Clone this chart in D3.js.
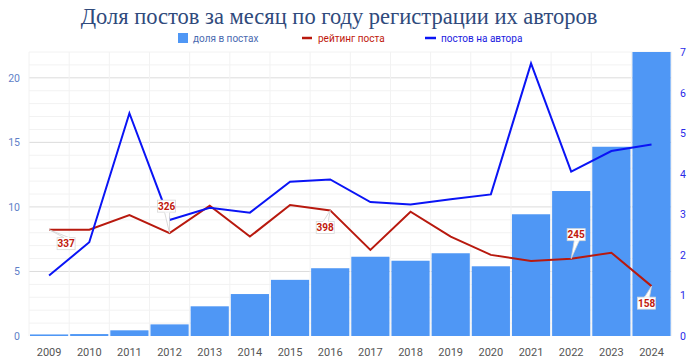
<!DOCTYPE html>
<html><head><meta charset="utf-8">
<script src="https://cdn.jsdelivr.net/npm/d3@7"></script>
<style>body{margin:0;background:#fff}svg{display:block}</style>
</head><body>
<script>
const years = ["2009","2010","2011","2012","2013","2014","2015","2016","2017","2018","2019","2020","2021","2022","2023","2024"];
const share = [0.12,0.15,0.44,0.9,2.3,3.25,4.35,5.25,6.14,5.83,6.41,5.40,9.43,11.23,14.66,22.0];
const rating = [337,337,383,326,413,315,415,398,273,394,315,257,238,245,264,158];
const perAuthor = [1.49,2.31,5.49,2.86,3.16,3.04,3.80,3.86,3.30,3.24,3.37,3.49,6.72,4.05,4.56,4.72];
const leftTicks = [0,5,10,15,20];
const rightTicks = [0,1,2,3,4,5,6,7];
const labelled = [{i:0,dx:17,dy:14},{i:3,dx:-3,dy:-27},{i:7,dx:-5,dy:17},{i:13,dx:5,dy:-24},{i:15,dx:-5,dy:17}];

const W=700,H=361, L=29, R=671.6, T=52, B=336;
const svg=d3.select("body").append("svg").attr("width",W).attr("height",H);
const x=d3.scaleBand().domain(years).range([L,R]).padding(0);
const yL=d3.scaleLinear().domain([0,22]).range([B,T]);
const yR=d3.scaleLinear().domain([0,7]).range([B,T]);
const yRt=d3.scaleLinear().domain([0,900]).range([B,T]);

// minor grid
svg.append("g").selectAll("line").data(d3.range(1,23)).join("line")
 .attr("x1",L).attr("x2",R).attr("y1",d=>yL(d)).attr("y2",d=>yL(d))
 .attr("stroke",d=>d%5===0?"#dcdcdc":"#f2f2f2").attr("stroke-width",1);
svg.append("g").selectAll("line").data(d3.range(0,17)).join("line")
 .attr("x1",i=>L+i*x.bandwidth()).attr("x2",i=>L+i*x.bandwidth()).attr("y1",T).attr("y2",B)
 .attr("stroke","#f2f2f2");

// bars
svg.append("g").selectAll("rect").data(share).join("rect")
 .attr("x",(d,i)=>x(years[i])+1).attr("width",x.bandwidth()-2)
 .attr("y",d=>yL(d)).attr("height",d=>B-yL(d)).attr("fill","#4f97f5");

// lines
const lineR=d3.line().x((d,i)=>x(years[i])+x.bandwidth()/2).y(d=>yRt(d));
const lineB=d3.line().x((d,i)=>x(years[i])+x.bandwidth()/2).y(d=>yR(d));
svg.append("path").datum(rating).attr("d",lineR).attr("fill","none").attr("stroke","#b8190e").attr("stroke-width",2);
svg.append("path").datum(perAuthor).attr("d",lineB).attr("fill","none").attr("stroke","#0a14f5").attr("stroke-width",2);

// data labels
const lg=svg.append("g");
labelled.forEach(o=>{
  const px=x(years[o.i])+x.bandwidth()/2, py=yRt(rating[o.i]);
  const cx=px+o.dx, cy=py+o.dy, w=18, h=12;
  const up = o.dy>0;
  const ey = up? cy-h/2 : cy+h/2;
  lg.append("path").attr("d",`M${px},${py}L${cx-2},${ey}L${cx+3},${ey}Z`).attr("fill","#fff").attr("stroke","#d0d0d0").attr("stroke-width",0.8);
  lg.append("rect").attr("x",cx-w/2).attr("y",cy-h/2).attr("width",w).attr("height",h).attr("fill","#fff").attr("stroke","#d8d8d8").attr("stroke-width",0.8);
  lg.append("path").attr("d",`M${cx-2},${ey}L${cx+3},${ey}`).attr("stroke","#fff").attr("stroke-width",1.2);
  lg.append("text").attr("x",cx).attr("y",cy+3.5).attr("text-anchor","middle")
   .attr("font-family","Roboto, sans-serif").attr("font-size",10).attr("font-weight","bold").attr("fill","#c0180c").text(rating[o.i]);
});

// axes
svg.append("g").selectAll("text").data(leftTicks).join("text")
 .attr("x",20).attr("y",d=>yL(d)+4).attr("text-anchor","end")
 .attr("font-family","Roboto, sans-serif").attr("font-size",10.5).attr("fill","#5f7fc8").text(d=>d);
svg.append("g").selectAll("text").data(rightTicks).join("text")
 .attr("x",680).attr("y",d=>yR(d)+4).attr("text-anchor","start")
 .attr("font-family","Roboto, sans-serif").attr("font-size",10.5).attr("fill","#2a2ae8").text(d=>d);
svg.append("g").selectAll("text").data(years).join("text")
 .attr("x",d=>x(d)+x.bandwidth()/2).attr("y",356).attr("text-anchor","middle")
 .attr("font-family","Roboto, sans-serif").attr("font-size",11).attr("fill","#555").text(d=>d);

// title
svg.append("text").attr("x",339).attr("y",24).attr("text-anchor","middle")
 .attr("font-family","Liberation Serif, serif").attr("font-size",22.5).attr("fill","#2f4a7c")
 .text("Доля постов за месяц по году регистрации их авторов");

// legend
const leg=svg.append("g").attr("font-family","Roboto, sans-serif").attr("font-size",10);
leg.append("rect").attr("x",178).attr("y",33).attr("width",10).attr("height",10).attr("fill","#4f97f5");
leg.append("text").attr("x",193).attr("y",42).attr("fill","#4a6ab0").text("доля в постах");
leg.append("line").attr("x1",302).attr("x2",312).attr("y1",38).attr("y2",38).attr("stroke","#b8190e").attr("stroke-width",2.5);
leg.append("text").attr("x",318).attr("y",42).attr("fill","#c0180c").text("рейтинг поста");
leg.append("line").attr("x1",425).attr("x2",436).attr("y1",38).attr("y2",38).attr("stroke","#0a14f5").attr("stroke-width",2.5);
leg.append("text").attr("x",441).attr("y",42).attr("fill","#1a1ae0").text("постов на автора");
</script>
</body></html>
